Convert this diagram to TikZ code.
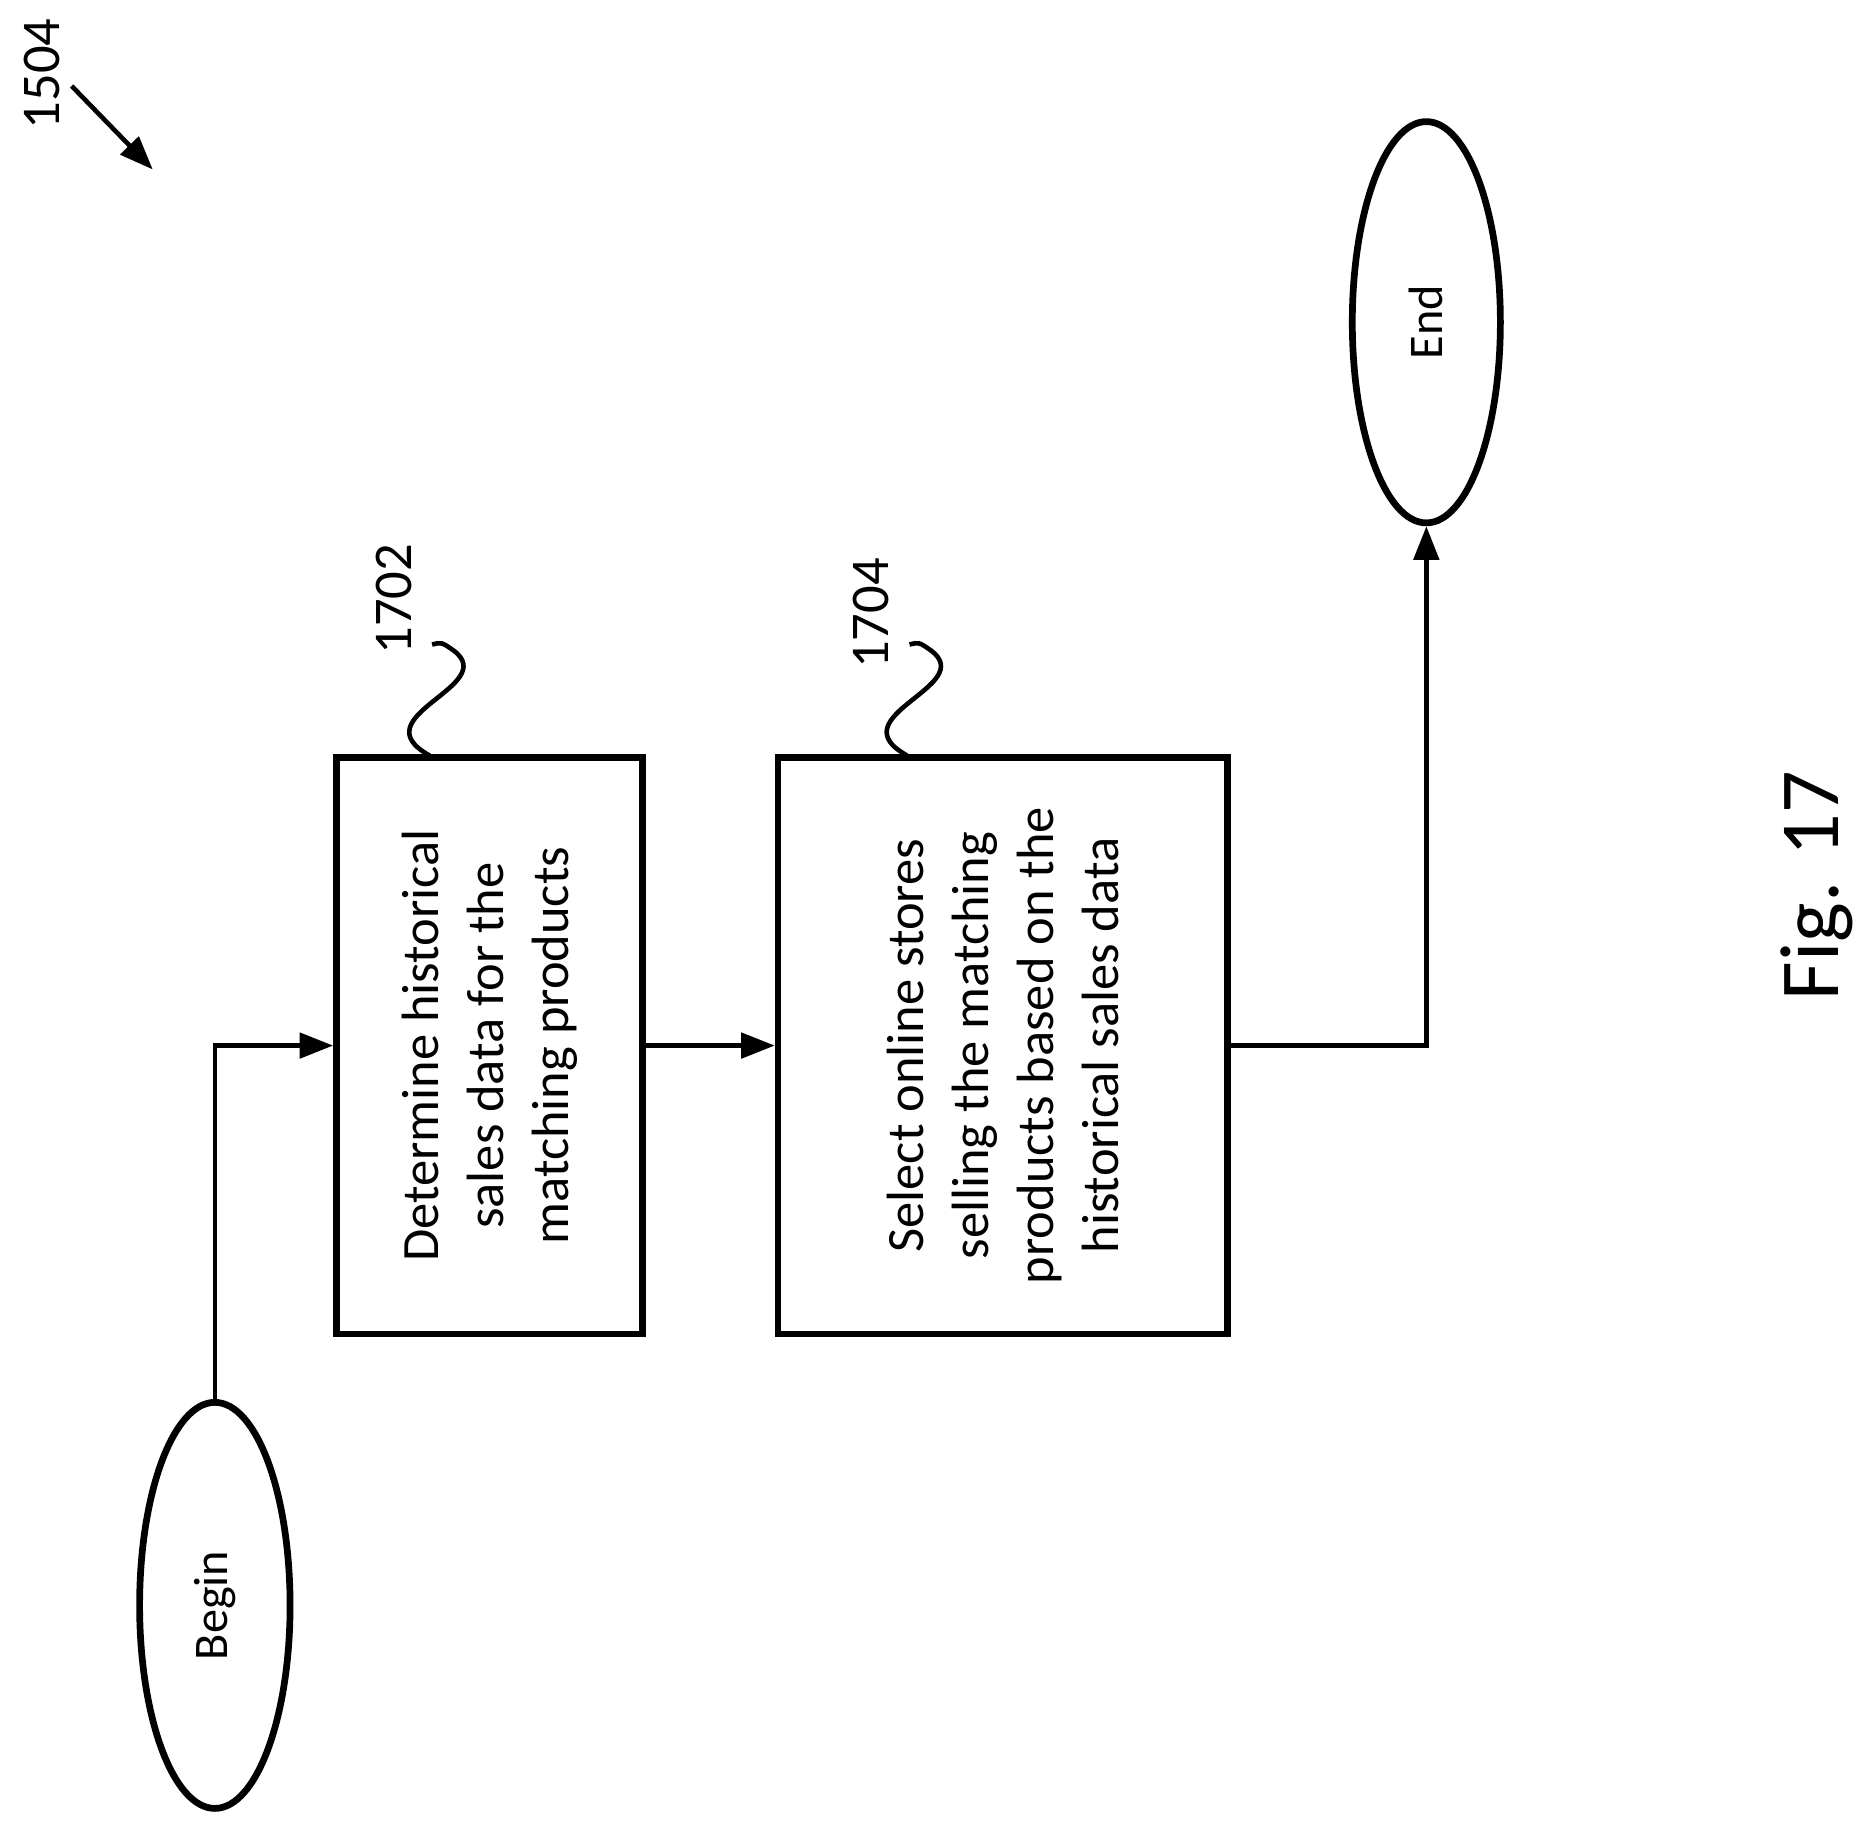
\documentclass[tikz,border=0pt]{standalone}
\usepackage{fontspec}
\setmainfont{Carlito}
\usetikzlibrary{positioning,shapes.geometric,arrows.meta}

\begin{document}
\begin{tikzpicture}[x=0.01cm,y=-0.01cm,
  box/.style={draw,line width=1.6pt,rotate=90,align=center,font=\fontsize{12.5}{15.5}\selectfont,inner sep=0pt},
  term/.style={draw,ellipse,line width=1.6pt,rotate=90,font=\fontsize{11.5}{13}\selectfont,inner sep=0pt},
  flow/.style={line width=1.1pt,-{Triangle[length=8pt,width=6pt]}},
  ref/.style={rotate=90,font=\fontsize{13}{15}\selectfont}]
\useasboundingbox (0,0) rectangle (1560,1525);
\node[term,minimum width=3.4cm,minimum height=1.26cm] (bgn) at (180,1345) {Begin};
\node[term,minimum width=3.36cm,minimum height=1.24cm] (end) at (1195,270) {End};
\node[box,minimum width=4.83cm,minimum height=2.56cm] (d1) at (410,876)
  {Determine historical\\sales data for the\\matching products};
\node[box,minimum width=4.83cm,minimum height=3.76cm] (s2) at (840,876)
  {Select online stores\\selling the matching\\products based on the\\historical sales data};
% flow
\draw[flow] (bgn.east) |- (d1.north);
\draw[flow] (d1.south) -- (s2.north);
\draw[flow] (s2.south) -| (end.west);
% reference labels
\node[ref] (n1702) at (330,502) {1702};
\node[ref] (n1704) at (730,514) {1704};
\draw[line width=1.1pt] (360,633) .. controls (300,600) and (420,575) .. (380,545) .. controls (370,538) .. (362,540);
\draw[line width=1.1pt] (760,633) .. controls (700,600) and (820,575) .. (780,545) .. controls (770,538) .. (762,540);
\node[ref] (n1504) at (35,62) {1504};
\coordinate (tip) at (128,142);
\draw[flow] (60,72) -- (tip);
\node[rotate=90,font=\fontsize{20}{24}\selectfont] (fig) at (1522,742) {Fig. 17};
\end{tikzpicture}
\end{document}
